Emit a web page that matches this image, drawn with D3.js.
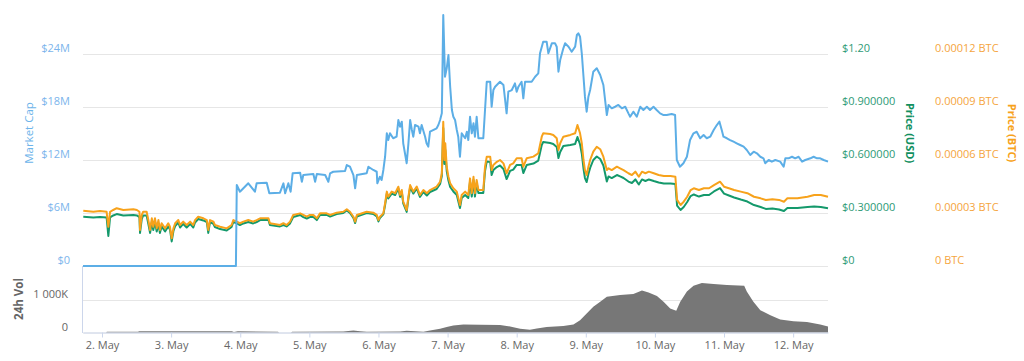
<!DOCTYPE html>
<html><head><meta charset="utf-8">
<script src="https://cdn.jsdelivr.net/npm/d3@7"></script>
<style>
body{margin:0;background:#fff}
svg{display:block}
text{font-family:"Open Sans",sans-serif}
</style>
</head><body>
<svg id="c" width="1024" height="361"></svg>
<script>
// ---------- DATA (hours since 2018-05-01 00:00 UTC) ----------
const mcapHours = [17.4,70.5,70.8,71.9,74.8,77.1,77.7,81.2,82.1,85.8,87.0,87.6,88.7,89.5,90.2,92.8,93.4,93.9,97.4,98.0,98.6,101.5,102.6,103.2,
104.3,108.4,109.0,110.1,111.3,111.9,112.5,115.9,116.5,118.2,119.4,119.6,120.5,121.1,121.7,122.3,122.9,123.4,124.0,125.1,126.3,126.9,127.5,128.1,128.6,129.2,129.8,130.4,131.0,131.6,132.1,132.7,133.9,134.4,135.0,136.2,136.7,137.3,137.9,140.2,140.8,141.4,142.0,142.5,143.1,143.7,144.3,144.9,145.5,146.0,146.6,147.2,147.7,148.3,148.9,150.1,150.7,151.2,151.8,152.4,153.0,153.5,154.1,154.7,156.4,157.0,157.6,158.8,159.3,159.9,160.5,162.2,163.4,164.5,165.1,166.3,167.4,168.0,168.6,169.7,170.3,170.9,173.2,174.4,175.5,176.1,177.2,178.4,179.0,180.2,181.3,181.9,182.5,183.1,184.2,184.8,186.0,187.1,188.3,188.9,189.4,
190.0,190.6,191.2,191.7,192.3,192.9,193.5,194.1,194.6,195.8,197.0,198.1,199.3,199.9,201.0,202.2,203.3,204.5,205.7,206.8,207.4,208.5,209.7,210.9,212.0,213.2,214.3,215.5,216.6,217.8,219.0,220.1,221.8,223.0,223.6,224.7,225.9,227.1,228.2,229.4,230.5,231.7,232.9,234.0,235.2,236.4,237.5,238.4,239.2,239.8,241.0,242.1,243.3,244.4,245.6,246.8,247.9,249.1,250.3,251.4,252.6,253.7,254.3,255.5,256.6,257.8,259.5,260.7,261.3,262.4,263.6,264.7,265.9,267.1,268.2,270.0,271.1,272.3,273.4,274.6,276.1];
// market cap, millions of USD
const mcapMillions = [0,0,9.17,8.41,9.36,8.41,9.36,9.43,8.23,8.30,9.36,8.23,9.36,8.41,10.49,10.56,9.54,10.30,10.41,9.54,10.41,10.30,9.54,10.49,
10.67,10.75,11.43,11.24,10.30,8.80,10.30,10.49,11.24,10.87,10.67,9.36,10.11,9.74,10.87,12.37,15.02,14.26,15.02,14.46,14.64,16.53,15.77,16.34,13.89,12.76,11.63,13.89,16.53,15.40,14.64,15.96,15.77,15.02,15.96,14.64,13.89,13.51,15.20,15.59,15.96,16.53,17.28,28.41,21.43,22.38,23.88,20.30,17.66,16.90,16.53,15.40,14.64,12.37,15.02,14.46,15.20,14.26,16.90,15.02,16.15,14.64,16.90,14.46,14.46,17.66,20.86,20.86,18.03,19.92,20.30,20.86,20.49,17.28,19.73,19.92,20.68,19.73,20.30,20.86,18.98,20.86,20.86,21.43,21.81,24.08,25.39,25.39,24.08,25.21,25.21,24.83,22.0,23.32,24.64,25.21,24.83,24.26,24.83,26.15,26.34,
25.96,24.08,21.43,19.17,17.47,19.17,19.92,21.06,22.0,22.38,21.62,20.49,17.09,18.23,17.85,18.03,18.23,17.85,18.03,17.28,16.90,17.47,16.90,18.03,17.66,18.03,17.66,18.03,17.66,17.28,17.09,17.09,17.21,17.09,12.0,11.24,11.63,12.37,14.26,15.02,15.20,14.46,14.83,14.46,14.64,15.40,15.96,16.34,15.40,14.64,14.46,14.26,14.07,13.89,13.70,13.51,13.13,12.57,12.94,12.76,12.37,12.19,11.63,12.0,11.81,12.0,11.81,11.24,12.19,12.19,12.37,12.19,12.37,11.81,12.0,12.19,12.37,12.19,12.19,12.0,11.81];

const priceHours = [17.5,21.0,23.3,25.6,26.2,26.8,27.9,29.1,31.4,34.9,36.1,37.0,37.2,37.8,38.3,39.5,40.1,40.7,41.3,41.8,42.4,43.0,43.6,44.1,44.7,45.9,47.0,47.6,48.2,48.8,49.4,50.5,51.1,52.2,53.4,54.6,55.7,56.3,57.4,59.2,60.4,60.9,61.5,62.7,63.2,65.0,67.3,69.0,69.6,70.8,71.9,73.1,74.8,76.5,77.7,78.9,81.8,82.3,85.8,87.0,88.1,89.3,90.4,92.8,93.9,95.1,96.2,97.4,98.6,99.7,102.0,103.2,
105.5,107.8,109.0,110.1,111.3,111.9,112.5,115.9,118.2,119.4,120.0,120.5,121.7,122.3,122.9,123.4,124.6,125.8,126.9,127.5,128.1,128.6,129.8,130.4,131.0,132.1,133.3,134.4,135.6,136.8,137.9,140.2,141.4,142.0,142.5,142.9,143.2,143.7,144.3,144.9,146.0,147.2,148.3,148.9,150.1,151.2,151.8,152.4,153.0,153.5,154.1,154.7,156.4,157.0,157.6,158.8,159.3,159.9,161.1,162.2,163.4,164.5,165.7,166.8,168.0,169.7,170.3,171.5,173.8,175.5,176.7,177.2,179.6,180.7,181.9,182.5,183.1,184.2,186.6,188.3,189.1,
190.0,190.6,191.2,191.7,192.3,192.9,193.5,194.6,195.8,197.0,198.1,199.3,199.9,201.0,202.8,203.9,205.1,206.8,208.0,209.2,210.4,211.5,212.7,213.9,215.6,217.3,219.1,221.4,223.1,223.7,224.9,226.0,227.2,228.4,229.5,231.3,233.0,234.8,236.5,238.6,240.0,241.7,243.5,245.8,248.1,250.4,252.7,254.5,256.8,259.1,260.8,262.0,265.5,269.0,271.3,273.6,276.1];
const priceUsd = [0.279,0.275,0.277,0.275,0.170,0.275,0.286,0.294,0.286,0.289,0.286,0.277,0.187,0.266,0.286,0.286,0.238,0.187,0.249,0.204,0.249,0.195,0.241,0.187,0.224,0.195,0.224,0.207,0.139,0.198,0.226,0.246,0.218,0.238,0.218,0.238,0.218,0.246,0.266,0.258,0.249,0.187,0.249,0.238,0.221,0.209,0.201,0.221,0.249,0.241,0.232,0.241,0.249,0.241,0.249,0.260,0.260,0.232,0.224,0.232,0.224,0.241,0.277,0.289,0.277,0.269,0.277,0.277,0.260,0.289,0.289,0.280,
0.294,0.300,0.314,0.300,0.272,0.243,0.280,0.300,0.294,0.280,0.252,0.272,0.292,0.345,0.410,0.382,0.410,0.402,0.439,0.391,0.419,0.354,0.306,0.382,0.447,0.410,0.439,0.391,0.419,0.399,0.419,0.436,0.464,0.509,0.781,0.577,0.657,0.538,0.484,0.447,0.422,0.402,0.328,0.385,0.402,0.385,0.478,0.393,0.487,0.393,0.470,0.413,0.413,0.538,0.592,0.589,0.515,0.543,0.560,0.569,0.549,0.492,0.538,0.546,0.572,0.572,0.526,0.572,0.580,0.597,0.685,0.702,0.696,0.691,0.674,0.611,0.645,0.679,0.685,0.691,0.730,
0.688,0.637,0.552,0.498,0.475,0.521,0.555,0.600,0.620,0.606,0.569,0.478,0.507,0.498,0.515,0.507,0.498,0.478,0.470,0.490,0.461,0.490,0.481,0.490,0.481,0.473,0.467,0.467,0.464,0.342,0.317,0.334,0.362,0.396,0.405,0.393,0.402,0.402,0.422,0.441,0.410,0.399,0.388,0.376,0.365,0.345,0.334,0.323,0.325,0.320,0.311,0.328,0.328,0.334,0.337,0.334,0.327];
const priceBtc = [3.13e-5,3.07e-5,3.11e-5,3.07e-5,2.22e-5,3.07e-5,3.17e-5,3.27e-5,3.17e-5,3.21e-5,3.17e-5,3.07e-5,2.04e-5,2.89e-5,3.07e-5,3.07e-5,2.60e-5,2.04e-5,2.70e-5,2.22e-5,2.70e-5,2.13e-5,2.60e-5,2.04e-5,2.42e-5,2.13e-5,2.42e-5,2.22e-5,1.57e-5,2.13e-5,2.42e-5,2.60e-5,2.32e-5,2.51e-5,2.32e-5,2.51e-5,2.32e-5,2.60e-5,2.79e-5,2.70e-5,2.60e-5,2.04e-5,2.60e-5,2.51e-5,2.32e-5,2.22e-5,2.13e-5,2.32e-5,2.60e-5,2.51e-5,2.42e-5,2.51e-5,2.60e-5,2.51e-5,2.60e-5,2.70e-5,2.70e-5,2.42e-5,2.32e-5,2.42e-5,2.32e-5,2.51e-5,2.89e-5,2.98e-5,2.89e-5,2.79e-5,2.89e-5,2.89e-5,2.70e-5,2.98e-5,2.98e-5,2.89e-5,
3.02e-5,3.07e-5,3.21e-5,3.07e-5,2.79e-5,2.51e-5,2.89e-5,3.07e-5,3.02e-5,2.89e-5,2.60e-5,2.79e-5,2.98e-5,3.55e-5,4.21e-5,3.92e-5,4.21e-5,4.12e-5,4.49e-5,4.02e-5,4.30e-5,3.64e-5,3.17e-5,3.92e-5,4.58e-5,4.21e-5,4.49e-5,4.02e-5,4.30e-5,4.12e-5,4.30e-5,4.49e-5,4.77e-5,5.25e-5,8.17e-5,6.00e-5,6.95e-5,5.62e-5,5.05e-5,4.68e-5,4.40e-5,4.21e-5,3.45e-5,4.02e-5,4.21e-5,4.02e-5,4.96e-5,4.12e-5,5.05e-5,4.12e-5,4.87e-5,4.30e-5,4.30e-5,5.62e-5,6.19e-5,6.19e-5,5.43e-5,5.72e-5,5.90e-5,6.00e-5,5.81e-5,5.25e-5,5.72e-5,5.81e-5,6.10e-5,6.10e-5,5.62e-5,6.10e-5,6.19e-5,6.38e-5,7.32e-5,7.51e-5,7.47e-5,7.42e-5,7.23e-5,6.57e-5,6.95e-5,7.32e-5,7.42e-5,7.51e-5,7.98e-5,
7.51e-5,6.95e-5,6.00e-5,5.43e-5,5.15e-5,5.62e-5,6.00e-5,6.47e-5,6.75e-5,6.61e-5,6.19e-5,5.43e-5,5.53e-5,5.43e-5,5.62e-5,5.53e-5,5.43e-5,5.25e-5,5.15e-5,5.34e-5,5.05e-5,5.34e-5,5.25e-5,5.34e-5,5.25e-5,5.15e-5,5.09e-5,5.09e-5,5.05e-5,3.74e-5,3.45e-5,3.64e-5,3.92e-5,4.30e-5,4.40e-5,4.30e-5,4.40e-5,4.40e-5,4.58e-5,4.77e-5,4.49e-5,4.40e-5,4.30e-5,4.21e-5,4.12e-5,3.92e-5,3.83e-5,3.74e-5,3.78e-5,3.74e-5,3.64e-5,3.83e-5,3.83e-5,3.92e-5,4.02e-5,4.02e-5,3.92e-5];

const volHours = [17.4,25.4,25.7,36.5,36.9,69.1,69.8,71.2,85.1,85.5,89.6,90.0,107.8,111.3,113.6,115.9,127.5,129.8,135.6,137.9,141.4,143.7,146.0,149.5,155.3,162.2,165.7,169.2,172.6,175.0,178.4,184.2,187.7,190.0,192.3,194.6,197.0,199.3,203.9,208.5,211.5,213.8,216.7,219.0,221.3,223.4,224.8,227.1,229.4,232.3,236.4,241.0,247.0,247.9,250.2,252.6,256.1,259.5,264.1,268.8,273.4,276.1];
// 24h volume, thousands of USD
const volThousands = [0,0,22,22,41,41,15,38,22,0,0,22,31,62,41,22,31,53,22,62,115,166,219,250,241,231,188,116,84,125,166,197,250,375,584,791,947,1103,1156,1188,1291,1228,1125,947,741,666,947,1259,1438,1522,1491,1459,1438,1259,947,688,531,397,344,322,250,188];

// ---------- TICKS ----------
const mcapTicks = [0,6,12,18,24];
const mcapTickLabels = ["$0","$6M","$12M","$18M","$24M"];
const usdTicks = [0,0.3,0.6,0.9,1.2];
const usdTickLabels = ["$0","$0.300000","$0.600000","$0.900000","$1.20"];
const btcTicks = [0,0.00003,0.00006,0.00009,0.00012];
const btcTickLabels = ["0 BTC","0.00003 BTC","0.00006 BTC","0.00009 BTC","0.00012 BTC"];
const volTicks = [0,1000];
const volTickLabels = ["0","1 000K"];
const xTickDays = [2,3,4,5,6,7,8,9,10,11,12];
const xTickLabels = ["2. May","3. May","4. May","5. May","6. May","7. May","8. May","9. May","10. May","11. May","12. May"];

// ---------- CHART ----------
const base = Date.UTC(2018,4,1);
const T = h => new Date(base + h*3600e3);
const svg = d3.select("#c");
const L = 83, R = 828;

const x = d3.scaleUtc().domain([T(17.4), T(276.1)]).range([L, R]);
const yM = d3.scaleLinear().domain([0,30]).range([266,1]);
const yU = d3.scaleLinear().domain([0,1.5]).range([266,1]);
const yB = d3.scaleLinear().domain([0,0.00015]).range([266,1]);
const yV = d3.scaleLinear().domain([0,1000]).range([332.5,300]);

const cBlue = "#5caee6", cGreen = "#14996b", cOrange = "#f7a21b";

function styleAxis(g, color, size){
  g.select(".domain").remove();
  g.selectAll(".tick line").attr("stroke","#e6e6e6");
  g.selectAll("text").attr("fill",color).style("font-size",size+"px").attr("dy","-0.2em");
}

// main gridlines + left labels
svg.append("g").attr("transform",`translate(${L},0)`)
  .call(d3.axisLeft(yM).tickValues(mcapTicks).tickFormat((d,i)=>mcapTickLabels[i]).tickSize(-(R-L)).tickPadding(13))
  .call(g=>styleAxis(g,"#7cb5ec",11));

// right usd labels
svg.append("g").attr("transform",`translate(${R},0)`)
  .call(d3.axisRight(yU).tickValues(usdTicks).tickFormat((d,i)=>usdTickLabels[i]).tickSize(0).tickPadding(14))
  .call(g=>styleAxis(g,"#2e9a76",11));
// right btc labels
svg.append("g").attr("transform",`translate(${R},0)`)
  .call(d3.axisRight(yB).tickValues(btcTicks).tickFormat((d,i)=>btcTickLabels[i]).tickSize(0).tickPadding(107))
  .call(g=>styleAxis(g,"#f5a540",11));

// volume grid + labels
svg.append("g").attr("transform",`translate(${L},0)`)
  .call(d3.axisLeft(yV).tickValues(volTicks).tickFormat((d,i)=>volTickLabels[i]).tickSize(-(R-L)).tickPadding(15))
  .call(g=>styleAxis(g,"#666",11));

// volume area
const volData = volHours.map((h,i)=>({t:T(h), v:volThousands[i]}));
svg.append("path").datum(volData)
  .attr("fill","#777777")
  .attr("d", d3.area().x(d=>x(d.t)).y0(yV(0)).y1(d=>yV(d.v)));

// axis vertical line on the left of volume panel
svg.append("line").attr("x1",82.5).attr("x2",82.5).attr("y1",266).attr("y2",333)
  .attr("stroke","#ccd6eb");

// x axis
svg.append("g").attr("transform","translate(0,332.5)")
  .call(d3.axisBottom(x).tickValues(xTickDays.map(d=>T((d-1)*24))).tickFormat((d,i)=>xTickLabels[i]).tickSize(5).tickSizeOuter(0).tickPadding(4))
  .call(g=>{
    g.select(".domain").attr("stroke","#ccd6eb");
    g.selectAll(".tick line").attr("stroke","#ccd6eb");
    g.selectAll("text").attr("fill","#666").style("font-size","11px");
  });

// lines
const priceData = priceHours.map((h,i)=>({t:T(h), u:priceUsd[i], b:priceBtc[i]}));
const mcapData = mcapHours.map((h,i)=>({t:T(h), v:mcapMillions[i]}));
svg.append("path").datum(priceData).attr("fill","none").attr("stroke",cGreen).attr("stroke-width",2).attr("stroke-linejoin","round")
  .attr("d", d3.line().x(d=>x(d.t)).y(d=>yU(d.u)));
svg.append("path").datum(priceData).attr("fill","none").attr("stroke",cOrange).attr("stroke-width",2).attr("stroke-linejoin","round")
  .attr("d", d3.line().x(d=>x(d.t)).y(d=>yB(d.b)));
svg.append("path").datum(mcapData).attr("fill","none").attr("stroke",cBlue).attr("stroke-width",2).attr("stroke-linejoin","round")
  .attr("d", d3.line().x(d=>x(d.t)).y(d=>yM(d.v)));

// titles
function vtitle(txt,xp,yp,rot,color,weight,size){
  svg.append("text").attr("transform",`translate(${xp},${yp}) rotate(${rot})`)
    .attr("text-anchor","middle").attr("dominant-baseline","central")
    .attr("fill",color).style("font-weight",weight).style("font-size",size+"px").text(txt);
}
vtitle("Market Cap",28,133,-90,"#6db4ea","normal",11.5);
vtitle("Price (USD)",910,133,90,"#12905f","bold",11);
vtitle("Price (BTC)",1012,133,90,cOrange,"bold",11);
vtitle("24h Vol",18,299,-90,"#666","bold",11.5);
</script>
</body></html>
